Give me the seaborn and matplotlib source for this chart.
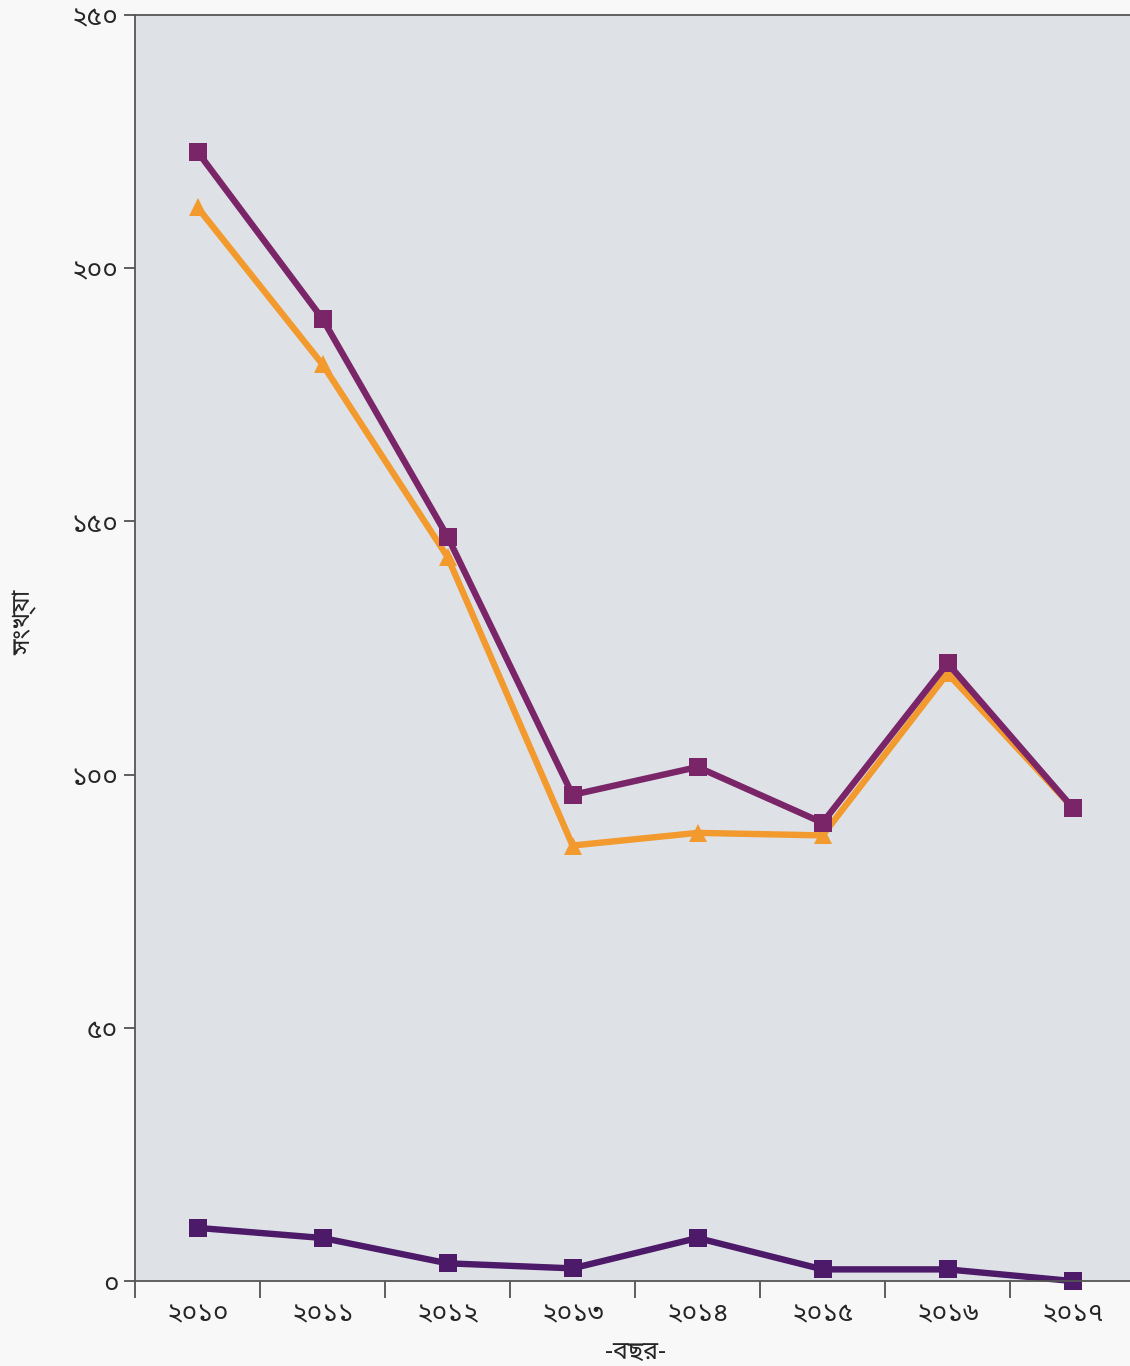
import pandas as pd
import matplotlib
matplotlib.use("Agg")
import matplotlib.pyplot as plt
from matplotlib import font_manager
import seaborn as sns

# Data
years = ["২০১০", "২০১১", "২০১২", "২০১৩", "২০১৪", "২০১৫", "২০১৬", "২০১৭"]
orange_series = [212, 181, 143, 86, 88.5, 88, 120, 93.5]
purple_series = [223, 190, 147, 96, 101.5, 90.5, 122, 93.5]
bottom_series = [10.5, 8.5, 3.5, 2.5, 8.5, 2.3, 2.3, 0]
y_ticks = [0, 50, 100, 150, 200, 250]
y_tick_labels = ["০", "৫০", "১০০", "১৫০", "২০০", "২৫০"]
x_label = "-বছর-"
y_label = "সংখ্যা"

COLORS = {"orange": "#f29a2e", "purple": "#7a2568", "bottom": "#4c1a68"}
MARKERS = {"orange": "^", "purple": "s", "bottom": "s"}

# pick a font with Bengali glyphs
bn_family = "DejaVu Sans"
for pref in ["NotoSansBengali[", "HindSiliguri-Regular", "TiroBangla-Regular"]:
    hits = [p for p in font_manager.findSystemFonts() if pref in p]
    if hits:
        bn_family = font_manager.FontProperties(fname=hits[0]).get_name()
        break

df = pd.DataFrame({
    "year": years * 3,
    "value": orange_series + purple_series + bottom_series,
    "series": ["orange"] * 8 + ["purple"] * 8 + ["bottom"] * 8,
})

sns.set_theme(style="white")
plt.rcParams["font.family"] = [bn_family, "DejaVu Sans"]

fig = plt.figure(figsize=(11.30, 13.66), dpi=100, facecolor="#f8f8f8")
ax = fig.add_axes([0.1195, 0.0622, 0.885, 0.9268])
ax.set_facecolor("#dee2e7")

sns.lineplot(data=df, x="year", y="value", hue="series", style="series",
             hue_order=["orange", "purple", "bottom"], palette=COLORS,
             markers=MARKERS, dashes=False, linewidth=4.6, markersize=13,
             markeredgewidth=0, ax=ax, legend=False, sort=False)
for line in ax.lines:
    line.set_clip_on(False)

ax.set_ylim(0, 250)
ax.set_xlim(-0.5, 7.5)
ax.set_yticks(y_ticks)
ax.set_yticklabels(y_tick_labels)
ax.set_xticks(range(len(years)))
ax.set_xticklabels(years)
ax.set_xticks([i - 0.5 for i in range(len(years) + 1)], minor=True)
ax.tick_params(axis="y", which="major", direction="out", length=8, width=1.2,
               color="#444444", labelsize=19, pad=4, left=True)
ax.tick_params(axis="x", which="major", length=0, labelsize=19, pad=14)
ax.tick_params(axis="x", which="minor", direction="out", length=12, width=1.2,
               color="#444444", bottom=True)
ax.set_xlabel(x_label, fontsize=18, labelpad=8)
ax.set_ylabel(y_label, fontsize=18)
ax.yaxis.set_label_coords(-0.098, 0.52)

for side in ["top", "left", "bottom"]:
    ax.spines[side].set_color("#555555")
    ax.spines[side].set_linewidth(1.3)
ax.spines["right"].set_visible(False)

fig.savefig("out.png", dpi=100, facecolor=fig.get_facecolor())
